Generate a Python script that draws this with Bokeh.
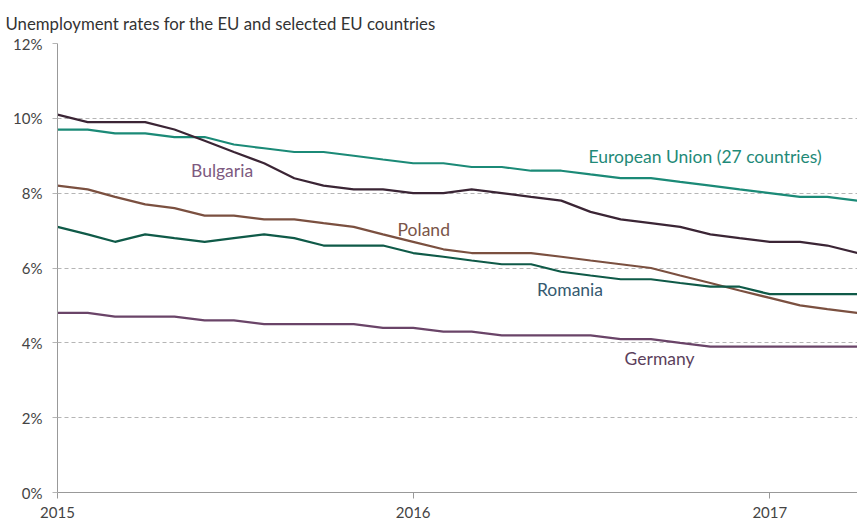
import pandas as pd
from bokeh.plotting import figure
from bokeh.models import FixedTicker, DatetimeTickFormatter, Range1d, CustomJSTickFormatter, Label
from bokeh.embed import file_html
from bokeh.resources import INLINE

months = ["2015-01", "2015-02", "2015-03", "2015-04", "2015-05", "2015-06", "2015-07",
          "2015-08", "2015-09", "2015-10", "2015-11", "2015-12", "2016-01", "2016-02",
          "2016-03", "2016-04", "2016-05", "2016-06", "2016-07", "2016-08", "2016-09",
          "2016-10", "2016-11", "2016-12", "2017-01", "2017-02", "2017-03", "2017-04"]

eu = [9.7, 9.7, 9.6, 9.6, 9.5, 9.5, 9.3, 9.2, 9.1, 9.1, 9.0, 8.9, 8.8, 8.8,
      8.7, 8.7, 8.6, 8.6, 8.5, 8.4, 8.4, 8.3, 8.2, 8.1, 8.0, 7.9, 7.9, 7.8]
bulgaria = [10.1, 9.9, 9.9, 9.9, 9.7, 9.4, 9.1, 8.8, 8.4, 8.2, 8.1, 8.1, 8.0, 8.0,
            8.1, 8.0, 7.9, 7.8, 7.5, 7.3, 7.2, 7.1, 6.9, 6.8, 6.7, 6.7, 6.6, 6.4]
poland = [8.2, 8.1, 7.9, 7.7, 7.6, 7.4, 7.4, 7.3, 7.3, 7.2, 7.1, 6.9, 6.7, 6.5,
          6.4, 6.4, 6.4, 6.3, 6.2, 6.1, 6.0, 5.8, 5.6, 5.4, 5.2, 5.0, 4.9, 4.8]
romania = [7.1, 6.9, 6.7, 6.9, 6.8, 6.7, 6.8, 6.9, 6.8, 6.6, 6.6, 6.6, 6.4, 6.3,
           6.2, 6.1, 6.1, 5.9, 5.8, 5.7, 5.7, 5.6, 5.5, 5.5, 5.3, 5.3, 5.3, 5.3]
germany = [4.8, 4.8, 4.7, 4.7, 4.7, 4.6, 4.6, 4.5, 4.5, 4.5, 4.5, 4.4, 4.4, 4.3,
           4.3, 4.2, 4.2, 4.2, 4.2, 4.1, 4.1, 4.0, 3.9, 3.9, 3.9, 3.9, 3.9, 3.9]

year_ticks = ["2015-01-01", "2016-01-01", "2017-01-01"]
y_ticks = [0, 2, 4, 6, 8, 10, 12]

series_names = ["European Union (27 countries)", "Bulgaria", "Poland", "Romania", "Germany"]
label_x = ["2016-06-29", "2015-05-18", "2015-12-16", "2016-05-07", "2016-08-05"]
label_y = [8.98, 8.61, 7.03, 5.43, 3.58]

x = pd.to_datetime(months)
tick_ms = [pd.Timestamp(t).value / 1e6 for t in year_ticks]

line_colors = ["#1b8a77", "#3b2535", "#7b5040", "#0f5a48", "#6a4468"]
label_colors = ["#1f8a78", "#7d5a80", "#7a5548", "#355a70", "#5c3f5c"]

FONT = "Lato"

p = figure(x_axis_type="datetime", output_backend="svg", toolbar_location=None,
           frame_width=800, frame_height=449,
           min_border_left=57, min_border_right=0, min_border_top=43, min_border_bottom=32,
           x_range=Range1d(pd.Timestamp("2015-01-01"), pd.Timestamp("2017-04-01")),
           y_range=Range1d(0, 12))

p.title.text = "Unemployment rates for the EU and selected EU countries"
p.title.text_font = FONT
p.title.text_font_style = "normal"
p.title.text_font_size = "16.8px"
p.title.text_color = "#333333"
p.title.align = "left"
p.title.vertical_align = "top"
p.title.offset = -52
p.title.standoff = 16

p.outline_line_color = None
p.background_fill_color = "white"
p.border_fill_color = "white"

p.xgrid.grid_line_color = None
p.ygrid.grid_line_color = "#b5b5b5"
p.ygrid.grid_line_dash = "4 3"
p.ygrid.grid_line_width = 1

p.xaxis.ticker = FixedTicker(ticks=tick_ms)
p.xaxis.formatter = DatetimeTickFormatter(years="%Y", months="%Y", days="%Y")
p.xaxis.minor_tick_line_color = None
p.xaxis.major_tick_in = 0
p.xaxis.major_tick_out = 6
p.xaxis.axis_line_color = "#999999"
p.xaxis.major_tick_line_color = "#999999"
p.xaxis.major_label_text_font = FONT
p.xaxis.major_label_text_font_size = "15px"
p.xaxis.major_label_text_color = "#444444"
p.xaxis.major_label_standoff = 8

p.yaxis.ticker = FixedTicker(ticks=y_ticks)
p.yaxis.formatter = CustomJSTickFormatter(code="return tick + '%';")
p.yaxis.minor_tick_line_color = None
p.yaxis.major_tick_in = 0
p.yaxis.major_tick_out = 5
p.yaxis.axis_line_color = "#999999"
p.yaxis.major_tick_line_color = "#b5b5b5"
p.yaxis.major_label_text_font = FONT
p.yaxis.major_label_text_font_size = "15px"
p.yaxis.major_label_text_color = "#444444"
p.yaxis.major_label_standoff = 10

all_series = [eu, bulgaria, poland, romania, germany]
for vals, col in zip(all_series, line_colors):
    p.line(x, vals, line_color=col, line_width=2.2)

for name, lx, ly, col in zip(series_names, label_x, label_y, label_colors):
    p.add_layout(Label(x=pd.Timestamp(lx).value / 1e6, y=ly, text=name,
                       text_font=FONT, text_font_size="17.5px", text_color=col,
                       text_align="left", text_baseline="middle"))

open("out.html", "w").write(file_html(p, INLINE))
